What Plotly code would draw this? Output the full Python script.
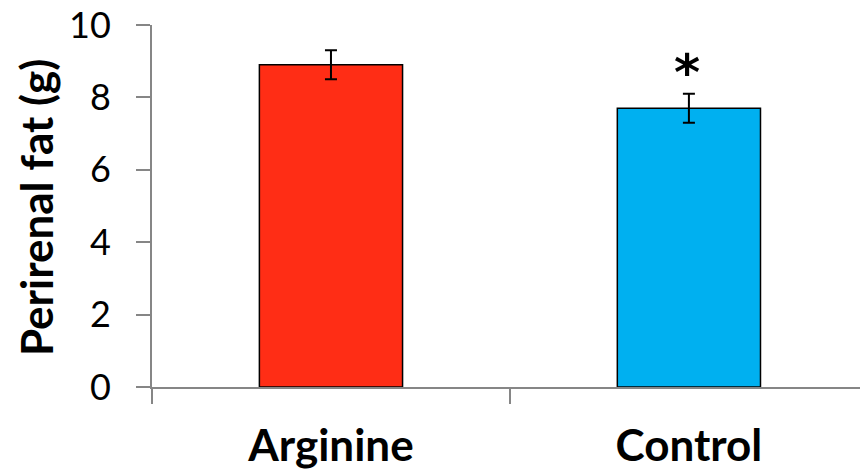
import plotly.graph_objects as go

categories = ["Arginine", "Control"]
values = [8.9, 7.7]
errors = [0.4, 0.4]
colors = ["#FF2D15", "#00B0F0"]
y_ticks = [0, 2, 4, 6, 8, 10]
y_title = "Perirenal fat (g)"
sig_marker = "*"

fig = go.Figure()
fig.add_trace(go.Bar(
    x=categories, y=values,
    marker=dict(color=colors, line=dict(color="#000000", width=1.5)),
    width=0.4,
    error_y=dict(type="data", array=errors, visible=True, color="#000000", thickness=2, width=6),
))

fig.add_annotation(
    x=categories[1], y=values[1] + errors[1] + 0.57, text=f"<b>{sig_marker}</b>",
    showarrow=False, font=dict(family="DejaVu Sans, sans-serif", size=50, color="#000000"),
    yanchor="middle", xshift=-2,
)

fig.add_annotation(
    xref="paper", yref="paper", x=0, y=0.497, xshift=-116,
    text=f"<b>{y_title}</b>", textangle=-90, showarrow=False,
    xanchor="center", yanchor="middle",
    font=dict(family="Lato, sans-serif", size=44, color="#000000"),
)

fig.update_layout(
    width=860, height=472,
    margin=dict(l=152, r=0, t=25, b=85),
    paper_bgcolor="white", plot_bgcolor="white",
    showlegend=False,
    font=dict(family="Lato, sans-serif", color="#000000"),
    xaxis=dict(
        type="category", range=[-0.5, 1.478],
        showline=True, linecolor="#868686", linewidth=2,
        ticks="outside", tickson="boundaries", ticklen=15, tickcolor="#868686", tickwidth=2,
        tickfont=dict(size=44, family="Lato, sans-serif", color="#000000", weight="bold"),
        ticklabelstandoff=19,
        showgrid=False, zeroline=False,
    ),
    yaxis=dict(
        range=[0, 10], tickvals=y_ticks,
        showline=True, linecolor="#868686", linewidth=2,
        ticks="outside", ticklen=14, tickcolor="#868686", tickwidth=2,
        tickfont=dict(size=36, family="Lato, sans-serif", color="#000000"),
        ticklabelstandoff=18,
        showgrid=False, zeroline=False,
    ),
)

fig.write_html("out.html")
